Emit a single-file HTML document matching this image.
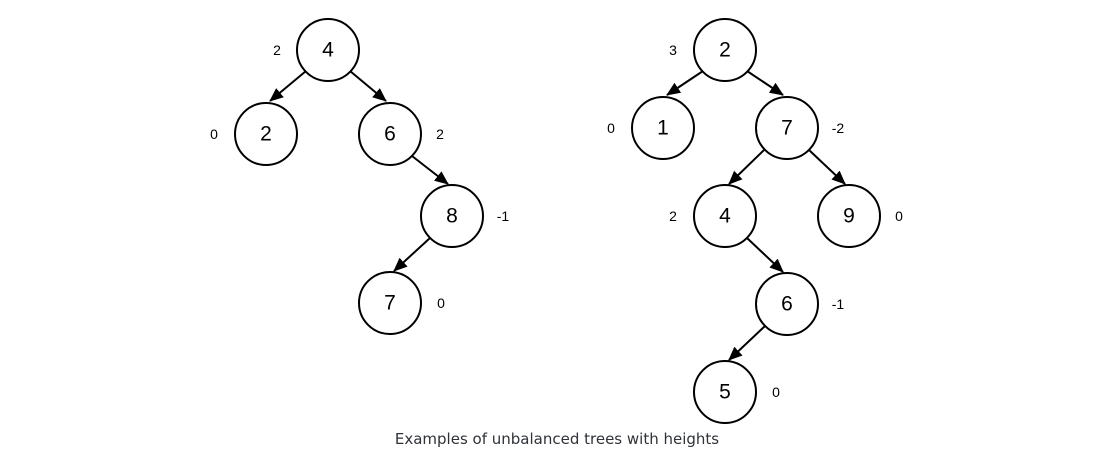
<!DOCTYPE html>
<html><head><meta charset="utf-8"><style>
body{margin:0;background:#fff;}
svg{display:block;}
.n{font-family:"Liberation Sans",Arial,sans-serif;font-size:21px;text-anchor:middle;dominant-baseline:central;fill:#000;}
.l{font-family:"Liberation Sans",Arial,sans-serif;font-size:14px;text-anchor:middle;dominant-baseline:central;fill:#000;}
.c{font-family:"DejaVu Sans","Liberation Sans",sans-serif;font-size:15px;text-anchor:middle;fill:#2f3338;}
</style></head><body>
<svg width="1095" height="458" viewBox="0 0 1095 458" xmlns="http://www.w3.org/2000/svg">
<defs><marker id="a" viewBox="0 0 14 12" refX="13" refY="6" markerWidth="14" markerHeight="12" orient="auto" markerUnits="userSpaceOnUse"><path d="M0,0 L14,6 L0,12 z" fill="#000"/></marker></defs>
<g stroke="#000" stroke-width="2" fill="none">
<line x1="306" y1="71" x2="270" y2="101" marker-end="url(#a)"/>
<line x1="350" y1="71" x2="386" y2="101" marker-end="url(#a)"/>
<line x1="412" y1="156" x2="448" y2="184" marker-end="url(#a)"/>
<line x1="430" y1="238" x2="394" y2="271" marker-end="url(#a)"/>
<line x1="703" y1="71" x2="667" y2="95" marker-end="url(#a)"/>
<line x1="747" y1="71" x2="783" y2="95" marker-end="url(#a)"/>
<line x1="764" y1="150" x2="729" y2="184" marker-end="url(#a)"/>
<line x1="809" y1="150" x2="845" y2="184" marker-end="url(#a)"/>
<line x1="747" y1="238" x2="783" y2="272" marker-end="url(#a)"/>
<line x1="765" y1="326" x2="729" y2="360" marker-end="url(#a)"/>
<circle cx="328" cy="50" r="31"/>
<circle cx="266" cy="134" r="31"/>
<circle cx="390" cy="134" r="31"/>
<circle cx="452" cy="216" r="31"/>
<circle cx="390" cy="303" r="31"/>
<circle cx="725" cy="50" r="31"/>
<circle cx="663" cy="128" r="31"/>
<circle cx="787" cy="128" r="31"/>
<circle cx="725" cy="216" r="31"/>
<circle cx="849" cy="216" r="31"/>
<circle cx="787" cy="304" r="31"/>
<circle cx="725" cy="392" r="31"/>
</g>
<text class="n" x="328" y="50">4</text>
<text class="n" x="266" y="134">2</text>
<text class="n" x="390" y="134">6</text>
<text class="n" x="452" y="216">8</text>
<text class="n" x="390" y="303">7</text>
<text class="n" x="725" y="50">2</text>
<text class="n" x="663" y="128">1</text>
<text class="n" x="787" y="128">7</text>
<text class="n" x="725" y="216">4</text>
<text class="n" x="849" y="216">9</text>
<text class="n" x="787" y="304">6</text>
<text class="n" x="725" y="392">5</text>
<text class="l" x="277" y="50">2</text>
<text class="l" x="214" y="134">0</text>
<text class="l" x="440" y="134">2</text>
<text class="l" x="503" y="216">-1</text>
<text class="l" x="441" y="303">0</text>
<text class="l" x="673" y="50">3</text>
<text class="l" x="611" y="128">0</text>
<text class="l" x="838" y="128">-2</text>
<text class="l" x="673" y="216">2</text>
<text class="l" x="899" y="216">0</text>
<text class="l" x="838" y="304">-1</text>
<text class="l" x="776" y="392">0</text>
<text class="c" x="557" y="444">Examples of unbalanced trees with heights</text>
</svg>
</body></html>
